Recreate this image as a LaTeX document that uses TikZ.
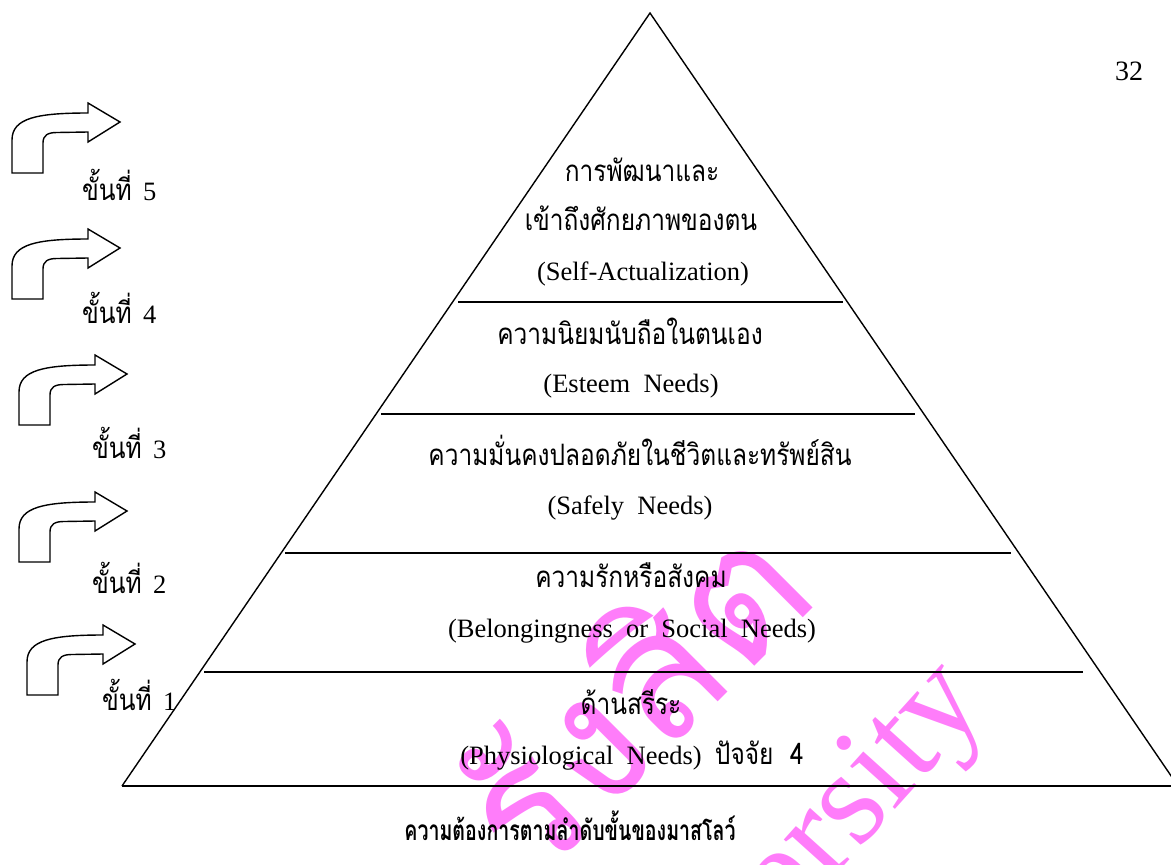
\documentclass[tikz,border=0pt]{standalone}
\usepackage{fontspec}
\setmainfont{Liberation Serif}
\newfontfamily\thaifont[Script=Thai, FakeStretch=0.83]{Loma}
\newfontfamily\thaicap[Script=Thai, FakeStretch=0.7]{Loma}
\newfontfamily\thaimark[Script=Thai]{Loma}
\definecolor{wmpink}{RGB}{255,125,250}
% text sizes (1pt = 1px of the page)
\newcommand\latx{\rmfamily\fontsize{26.5}{30}\selectfont}
\newcommand\thx{\thaifont\fontsize{29.5}{32}\selectfont}
\newcommand\capx{\thaicap\bfseries\fontsize{28}{32}\selectfont}
\newcommand\wmth{\thaimark\fontsize{178}{178}\selectfont}
\newcommand\wmen{\rmfamily\fontsize{135}{135}\selectfont}
\tikzset{
  side/.style={line width=1.4pt, line join=miter},
  tier/.style={line width=2pt},
  bentbox/.style={draw=black, line width=1.4pt, fill=white, line join=miter},
  lab/.style={inner sep=0pt, anchor=base},
  steplab/.style={inner sep=0pt, anchor=base west},
  wm/.style={text=wmpink, inner sep=0pt},
  bentarrow/.pic={
    \path[bentbox] (0,0) -- (31,0) -- (31,-30)
      .. controls (31,-38) and (36,-40.5) .. (45,-40.5) -- (76,-41)
      -- (76,-31) -- (108,-51) -- (76,-70) -- (76,-60)
      .. controls (25,-60) and (0,-55) .. (0,-33) -- cycle;
  }
}
\begin{document}
\begin{tikzpicture}[x=1pt,y=-1pt]
\useasboundingbox (0,0) rectangle (1171,865);
\clip (0,0) rectangle (1171,865);

% watermark
\node[wm, rotate=45, font=\wmth] (wmthai) at (628,692) {รังสิต};
\node[wm, rotate=48, font=\wmen] (wmuni) at (776,897) {University};

% pyramid outline
\coordinate (apex) at (650,13);
\coordinate (bl) at (122,786);
\coordinate (br) at (1178,786);
\draw[side] (bl) -- (apex) -- (br);
\draw[tier] (bl) -- (br);

% tier dividers
\draw[tier] (458,302) -- (843,302);
\draw[tier] (381,414) -- (915,414);
\draw[tier] (285,553) -- (1011,553);
\draw[tier] (204,672) -- (1083,672);

% tier texts
\node[lab] (s5a) at (642,181) {\thx การพัฒนาและ};
\node[lab] (s5b) at (641,230) {\thx เข้าถึงศักยภาพของตน};
\node[lab] (s5c) at (643,280) {\latx (Self-Actualization)};
\node[lab] (s4a) at (630,344) {\thx ความนิยมนับถือในตนเอง};
\node[lab] (s4b) at (631,392) {\latx (Esteem\ \ Needs)};
\node[lab] (s3a) at (640,465) {\thx ความมั่นคงปลอดภัยในชีวิตและทรัพย์สิน};
\node[lab] (s3b) at (630,514) {\latx (Safely\ \ Needs)};
\node[lab] (s2a) at (631,587) {\thx ความรักหรือสังคม};
\node[lab] (s2b) at (632,637) {\latx (Belongingness\ \ or\ \ Social\ \ Needs)};
\node[lab] (s1a) at (631,714) {\thx ด้านสรีระ};
\node[lab] (s1b) at (632,764) {\latx (Physiological\ \ Needs)\ \ {\thx ปัจจัย\ \ 4}};

% step arrows and labels
\pic at (12,173) {bentarrow};
\pic at (12,299) {bentarrow};
\pic at (19,425) {bentarrow};
\pic at (19,562) {bentarrow};
\pic at (27,695) {bentarrow};
\node[steplab] (k5) at (82,200) {\thx ขั้นที่\ {\latx\hspace{3pt}5}};
\node[steplab] (k4) at (82,323) {\thx ขั้นที่\ {\latx\hspace{3pt}4}};
\node[steplab] (k3) at (92,458) {\thx ขั้นที่\ {\latx\hspace{3pt}3}};
\node[steplab] (k2) at (92,593) {\thx ขั้นที่\ {\latx\hspace{3pt}2}};
\node[steplab] (k1) at (102,710) {\thx ขั้นที่\ {\latx\hspace{3pt}1}};

% page number and caption
\node[lab] (pnum) at (1129,80) {\fontsize{28}{30}\selectfont 32};
\node[lab] (cap) at (570,840) {\capx ความต้องการตามลำดับขั้นของมาสโลว์};
\end{tikzpicture}
\end{document}
